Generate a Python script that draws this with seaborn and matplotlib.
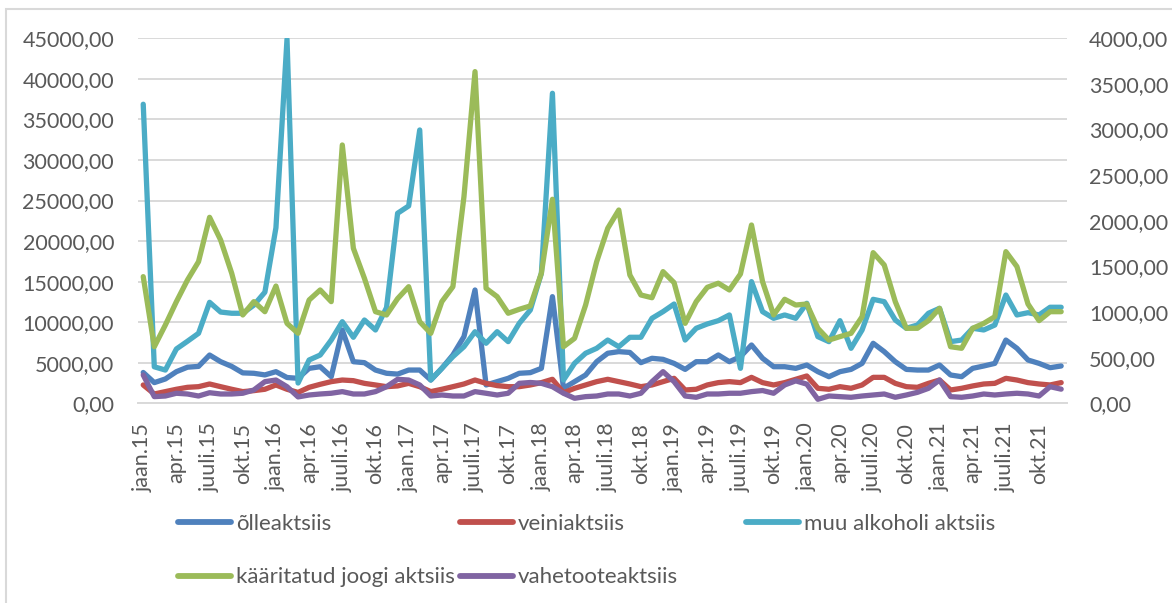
import numpy as np
import pandas as pd
import matplotlib
matplotlib.use('Agg')
import matplotlib.pyplot as plt
import matplotlib.ticker as mticker
from matplotlib.patches import Rectangle
from matplotlib.lines import Line2D
import seaborn as sns

# monthly excise data, jan 2015 .. dec 2021
years = ['15', '16', '17', '18', '19', '20', '21']
month_names = ['jaan', 'veebr', 'märts', 'apr', 'mai', 'juuni',
               'juuli', 'aug', 'sept', 'okt', 'nov', 'dets']

# left axis
olle = [3800, 2550, 3000, 3900, 4450, 4550, 5950, 5130, 4550, 3750, 3700, 3500,
        3900, 3180, 3080, 4310, 4510, 3280, 9040, 5130, 5010, 4100, 3700, 3600,
        4100, 4100, 2870, 4310, 5960, 8220, 13970, 2260, 2670, 3080, 3700, 3780,
        4310, 13150, 1850, 2670, 3490, 5130, 6170, 6370, 6270, 5010, 5550, 5420,
        4920, 4180, 5130, 5130, 5960, 5130, 5750, 7190, 5550, 4510, 4510, 4310,
        4720, 3900, 3280, 3900, 4180, 4920, 7400, 6370, 5130, 4180, 4100, 4100,
        4720, 3490, 3280, 4310, 4600, 4920, 7800, 6780, 5340, 4920, 4390, 4600]
veini = [2260, 1150, 1440, 1730, 1970, 2050, 2380, 2050, 1730, 1440, 1560, 1730,
         2260, 1730, 1340, 1970, 2340, 2670, 2870, 2790, 2460, 2260, 2050, 2140,
         2460, 2050, 1440, 1730, 2050, 2380, 2870, 2460, 2180, 2050, 2050, 2260,
         2550, 2960, 1300, 1850, 2260, 2670, 2960, 2670, 2380, 2050, 2260, 2670,
         3080, 1640, 1730, 2260, 2550, 2670, 2550, 3200, 2550, 2260, 2550, 2960,
         3370, 1850, 1730, 2050, 1850, 2260, 3200, 3200, 2460, 2050, 1970, 2460,
         2870, 1640, 1850, 2140, 2380, 2460, 3080, 2870, 2550, 2380, 2260, 2550]
muu = [36870, 4500, 4100, 6700, 7650, 8630, 12450, 11250, 11100, 11100, 12100, 13700,
       21650, 44900, 2500, 5340, 5950, 7800, 10060, 8140, 10270, 9040, 11800, 23430,
       24330, 33700, 2870, 4310, 5750, 6980, 8830, 7400, 8830, 7600, 9860, 11500,
       16030, 38220, 2870, 4930, 6170, 6780, 7800, 6980, 8140, 8140, 10480, 11300,
       12240, 7800, 9250, 9780, 10190, 10890, 4310, 15000, 11300, 10480, 10890, 10480,
       12330, 8220, 7600, 10190, 6780, 9040, 12820, 12530, 10270, 9250, 9650, 11100,
       11710, 7600, 7800, 9250, 9040, 9650, 13350, 10890, 11170, 10890, 11840, 11840]
# right axis
kaar = [1388, 620, 858, 1114, 1351, 1552, 2038, 1789, 1425, 968, 1114, 1004,
        1285, 876, 767, 1132, 1242, 1114, 2831, 1699, 1370, 1004, 968, 1147,
        1278, 894, 767, 1114, 1278, 2264, 3635, 1260, 1169, 987, 1030, 1067,
        1425, 2236, 620, 712, 1077, 1552, 1918, 2118, 1406, 1187, 1157, 1443,
        1322, 876, 1114, 1271, 1316, 1242, 1417, 1954, 1333, 968, 1140, 1077,
        1088, 822, 693, 731, 767, 949, 1651, 1516, 1114, 822, 822, 906,
        1041, 620, 603, 822, 876, 949, 1662, 1498, 1088, 906, 1004, 1004]
vahe = [310, 73, 80, 110, 102, 80, 116, 102, 102, 110, 146, 237,
        255, 182, 70, 91, 102, 110, 128, 102, 102, 128, 182, 263,
        255, 201, 80, 91, 80, 80, 128, 110, 91, 110, 219, 228,
        219, 182, 110, 55, 73, 80, 102, 102, 80, 110, 237, 347,
        237, 80, 66, 102, 102, 110, 110, 128, 140, 110, 201, 246,
        210, 44, 80, 73, 66, 80, 91, 102, 66, 91, 120, 164,
        255, 73, 66, 80, 102, 91, 102, 110, 102, 80, 182, 155]

labels = [f'{m}.{y}' for y in years for m in month_names]
df = pd.DataFrame({'kuu': np.arange(len(labels)), 'olle': olle, 'veini': veini,
                   'muu': muu, 'kaar': kaar, 'vahe': vahe})

sns.set_style('white')
plt.rcParams['font.family'] = ['Lato', 'DejaVu Sans']
txt = '#595959'
grid = '#D9D9D9'
lw = 3.8

W, H = 1172, 603
fig = plt.figure(figsize=(W / 100, H / 100), dpi=100)
ax = fig.add_axes([137.7 / W, 1 - 403.3 / H, 929 / W, 365 / H])
ax2 = ax.twinx()

series_left = [('olle', 'õlleaktsiis', '#4F81BD'),
               ('veini', 'veiniaktsiis', '#C0504D'),
               ('muu', 'muu alkoholi aktsiis', '#4BACC6')]
series_right = [('kaar', 'kääritatud joogi aktsiis', '#9BBB59'),
                ('vahe', 'vahetooteaktsiis', '#8064A2')]

handles = {}
for col, name, c in series_left:
    sns.lineplot(data=df, x='kuu', y=col, ax=ax, color=c, lw=lw, legend=False,
                 solid_joinstyle='round')
    handles[name] = Line2D([], [], color=c, lw=lw + 0.4, solid_capstyle='round')
for col, name, c in series_right:
    sns.lineplot(data=df, x='kuu', y=col, ax=ax2, color=c, lw=lw, legend=False,
                 solid_joinstyle='round')
    handles[name] = Line2D([], [], color=c, lw=lw + 0.4, solid_capstyle='round')

fmt = mticker.FuncFormatter(lambda v, p: f'{v:.2f}'.replace('.', ','))
ax.set_ylim(0, 45000)
ax.set_yticks(np.arange(0, 45001, 5000))
ax2.set_ylim(0, 4000)
ax2.set_yticks(np.arange(0, 4001, 500))
ax.yaxis.set_major_formatter(fmt)
ax2.yaxis.set_major_formatter(fmt)
ax.set_xlim(-0.5, len(labels) - 0.5)
ax.set_xticks(np.arange(-0.5, len(labels), 3))
ax.set_xticklabels([])
ax.set_xticks(np.arange(0, len(labels), 3), minor=True)
ax.set_xticklabels(labels[::3], minor=True, rotation=90)
ax.tick_params(axis='x', which='major', length=7, width=1.3, color=grid)
ax.tick_params(axis='x', which='minor', length=0, pad=14, labelsize=15.5, labelcolor=txt)
ax.tick_params(axis='y', length=0, pad=17, labelsize=15.5, labelcolor=txt)
ax2.tick_params(axis='y', length=0, pad=16, labelsize=15.5, labelcolor=txt)
ax.set_xlabel('')
ax.set_ylabel('')
ax2.set_ylabel('')

ax.yaxis.grid(True, color=grid, lw=1.4)
ax.set_axisbelow(True)
for s in ['top', 'left', 'right']:
    ax.spines[s].set_visible(False)
ax.spines['bottom'].set_color(grid)
ax.spines['bottom'].set_linewidth(1.4)
for s in ax2.spines.values():
    s.set_visible(False)

# legend laid out like the Excel one: 3 columns, two rows
cols = [(178, ['õlleaktsiis', 'kääritatud joogi aktsiis']),
        (460, ['veiniaktsiis', 'vahetooteaktsiis']),
        (746, ['muu alkoholi aktsiis'])]
for x0, names in cols:
    leg = fig.legend([handles[n] for n in names], names, loc='upper left',
                     bbox_to_anchor=(x0 / W, 1 - 514 / H), frameon=False,
                     fontsize=16, handlelength=2.4, handletextpad=0.2,
                     labelspacing=1.5, borderpad=0, borderaxespad=0,
                     labelcolor=txt)

fig.patches.append(Rectangle((6 / W, -0.05), 1.1, 0.05 + 1 - 9 / H,
                             transform=fig.transFigure, fill=False,
                             edgecolor=grid, lw=1.5))

fig.savefig('out.png', dpi=100, facecolor='white')
